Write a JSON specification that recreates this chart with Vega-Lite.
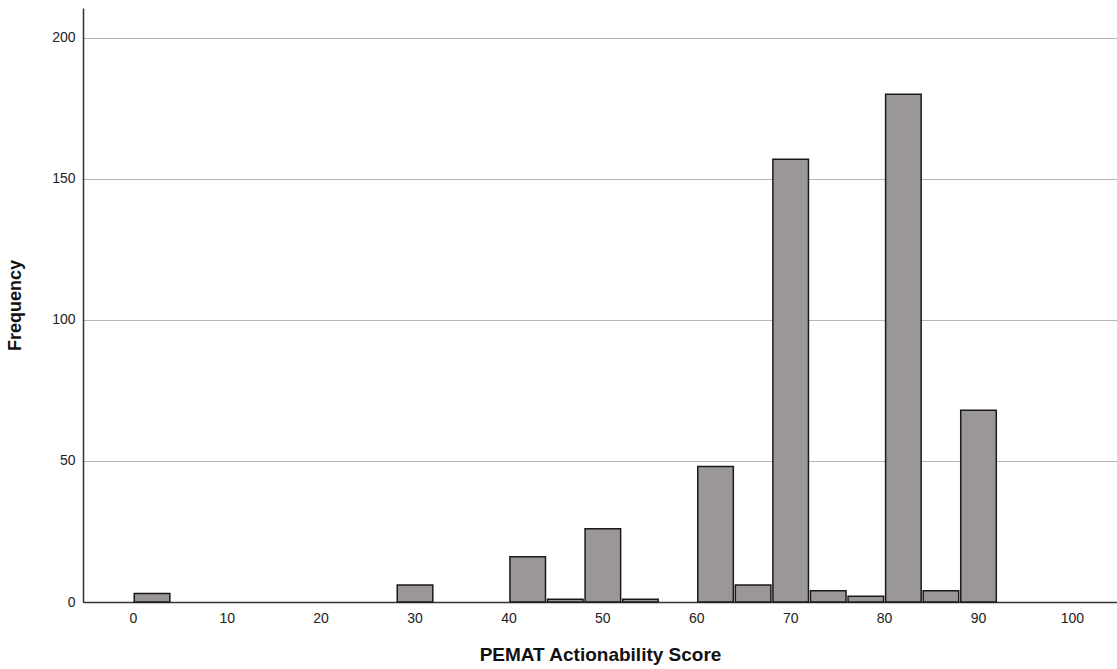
{
  "$schema": "https://vega.github.io/schema/vega-lite/v6.json",
  "autosize": {"type": "none"},
  "padding": {"left": 83, "top": 8, "right": 0, "bottom": 67},
  "width": 1034,
  "height": 594,
  "background": "white",
  "data": {
    "values": [
      {"bin_start": 0, "bin_end": 4, "frequency": 3},
      {"bin_start": 28, "bin_end": 32, "frequency": 6},
      {"bin_start": 40, "bin_end": 44, "frequency": 16},
      {"bin_start": 44, "bin_end": 48, "frequency": 1},
      {"bin_start": 48, "bin_end": 52, "frequency": 26},
      {"bin_start": 52, "bin_end": 56, "frequency": 1},
      {"bin_start": 60, "bin_end": 64, "frequency": 48},
      {"bin_start": 64, "bin_end": 68, "frequency": 6},
      {"bin_start": 68, "bin_end": 72, "frequency": 157},
      {"bin_start": 72, "bin_end": 76, "frequency": 4},
      {"bin_start": 76, "bin_end": 80, "frequency": 2},
      {"bin_start": 80, "bin_end": 84, "frequency": 180},
      {"bin_start": 84, "bin_end": 88, "frequency": 4},
      {"bin_start": 88, "bin_end": 92, "frequency": 68}
    ]
  },
  "mark": {"type": "bar", "fill": "#9b9797", "stroke": "#1a1a1a", "strokeWidth": 1.5, "binSpacing": 2},
  "encoding": {
    "x": {
      "field": "bin_start",
      "type": "quantitative",
      "bin": "binned",
      "scale": {"domain": [-5.3, 104.8], "nice": false, "zero": false},
      "axis": {
        "title": "PEMAT Actionability Score",
        "values": [0, 10, 20, 30, 40, 50, 60, 70, 80, 90, 100],
        "format": "d",
        "grid": false,
        "ticks": false,
        "domainColor": "#333333",
        "domainWidth": 1.5,
        "labelFont": "Liberation Sans",
        "labelFontSize": 14,
        "labelColor": "#222222",
        "labelPadding": 9,
        "titleFont": "Liberation Sans",
        "titleFontSize": 19,
        "titleFontWeight": "bold",
        "titleColor": "#111111",
        "titlePadding": 20
      }
    },
    "x2": {"field": "bin_end"},
    "y": {
      "field": "frequency",
      "type": "quantitative",
      "scale": {"domain": [0, 210.6], "nice": false},
      "axis": {
        "title": "Frequency",
        "values": [0, 50, 100, 150, 200],
        "grid": true,
        "gridColor": "#b5b5b5",
        "gridWidth": 1.2,
        "ticks": false,
        "domainColor": "#333333",
        "domainWidth": 1.5,
        "labelFont": "Liberation Sans",
        "labelFontSize": 14,
        "labelColor": "#222222",
        "labelPadding": 8,
        "titleFont": "Liberation Sans",
        "titleFontSize": 18,
        "titleFontWeight": "bold",
        "titleColor": "#111111",
        "titlePadding": 27
      }
    }
  },
  "config": {
    "view": {"stroke": null}
  }
}
